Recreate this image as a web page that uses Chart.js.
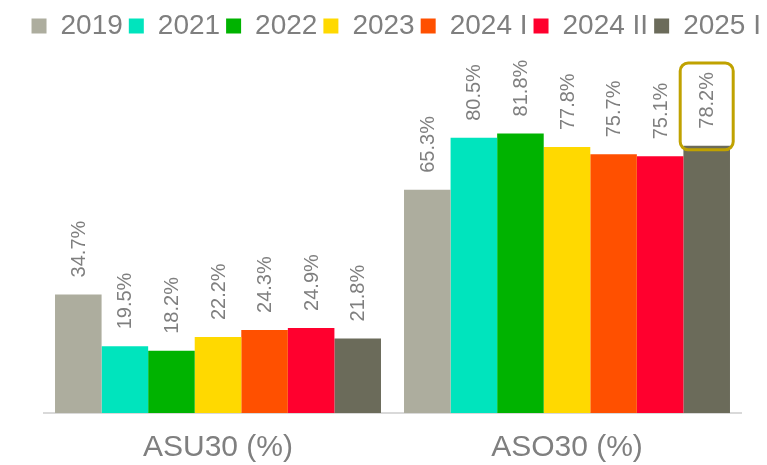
<!DOCTYPE html>
<html>
<head>
<meta charset="utf-8">
<script src="https://cdn.jsdelivr.net/npm/chart.js@4.4.1/dist/chart.umd.min.js"></script>
<style>
  html, body { margin: 0; padding: 0; background: #fff; }
  #wrap { width: 767px; height: 465px; position: relative; }
</style>
</head>
<body>
<div id="wrap"><canvas id="chart" width="767" height="465"></canvas></div>
<script>
// categories and series
const categories = ["ASU30 (%)", "ASO30 (%)"];
const seriesNames = ["2019", "2021", "2022", "2023", "2024 I", "2024 II", "2025 I"];
const seriesColors = ["#adad9e", "#00e4bd", "#00b300", "#ffd900", "#ff5000", "#ff002e", "#6b6b5a"];
const asu30 = [34.7, 19.5, 18.2, 22.2, 24.3, 24.9, 21.8];
const aso30 = [65.3, 80.5, 81.8, 77.8, 75.7, 75.1, 78.2];

const textGray = "#7f7f7f";
const fontFam = "'Liberation Sans', Arial, sans-serif";
const yMax = 106.2;

// rotated value labels above each bar
const valueLabels = {
    id: "valueLabels",
    afterDatasetsDraw(chart) {
        const ctx = chart.ctx;
        ctx.save();
        ctx.font = "20px " + fontFam;
        ctx.fillStyle = textGray;
        ctx.textAlign = "left";
        ctx.textBaseline = "middle";
        chart.data.datasets.forEach((ds, i) => {
            const meta = chart.getDatasetMeta(i);
            meta.data.forEach((bar, j) => {
                const txt = ds.data[j].toFixed(1) + "%";
                ctx.save();
                ctx.translate(bar.x + 1, bar.y - 17);
                ctx.rotate(-Math.PI / 2);
                ctx.fillText(txt, 0, 0);
                ctx.restore();
            });
        });
        ctx.restore();
    }
};

// rounded box round the last value of the 2025 I series
const highlightBox = {
    id: "highlightBox",
    afterDatasetsDraw(chart) {
        const ctx = chart.ctx;
        const bar = chart.getDatasetMeta(6).data[1];
        ctx.save();
        ctx.font = "20px " + fontFam;
        const len = ctx.measureText(aso30[6].toFixed(1) + "%").width;
        const left = bar.x - 26.5, right = bar.x + 26.5;
        const top = bar.y - 17 - len - 9, bottom = bar.y + 4;
        ctx.strokeStyle = "#c0a200";
        ctx.lineWidth = 3;
        ctx.beginPath();
        ctx.roundRect(left, top, right - left, bottom - top, 8);
        ctx.stroke();
        ctx.restore();
    }
};

const datasets = seriesNames.map((name, i) => ({
    label: name,
    data: [asu30[i], aso30[i]],
    backgroundColor: seriesColors[i],
    borderWidth: 0,
    categoryPercentage: 0.934,
    barPercentage: 1.0
}));

// empty side axes, only there to hold the plot margins
const blankAxis = (pos, w) => ({
    position: pos,
    display: true,
    min: 0,
    max: yMax,
    grid: { display: false, drawTicks: false },
    border: { display: false },
    ticks: { display: false },
    afterFit: s => { s.width = w; }
});

new Chart(document.getElementById("chart"), {
    type: "bar",
    data: { labels: categories, datasets: datasets },
    options: {
        responsive: false,
        animation: false,
        devicePixelRatio: 1,
        layout: { padding: { left: 0, right: 0, top: 6, bottom: 0 } },
        plugins: {
            legend: {
                position: "top",
                align: "end",
                labels: {
                    font: { size: 28, family: fontFam },
                    color: textGray,
                    boxWidth: 15,
                    boxHeight: 15,
                    padding: 6
                }
            },
            tooltip: { enabled: false }
        },
        scales: {
            x: {
                grid: { display: false, drawTicks: false },
                border: { color: "#d9d9d9", width: 2 },
                ticks: {
                    font: { size: 30, family: fontFam },
                    color: textGray,
                    padding: 17
                },
                afterFit: s => { s.height = 52; }
            },
            y: blankAxis("left", 43.5),
            y2: blankAxis("right", 25.5)
        }
    },
    plugins: [valueLabels, highlightBox]
});
</script>
</body>
</html>
